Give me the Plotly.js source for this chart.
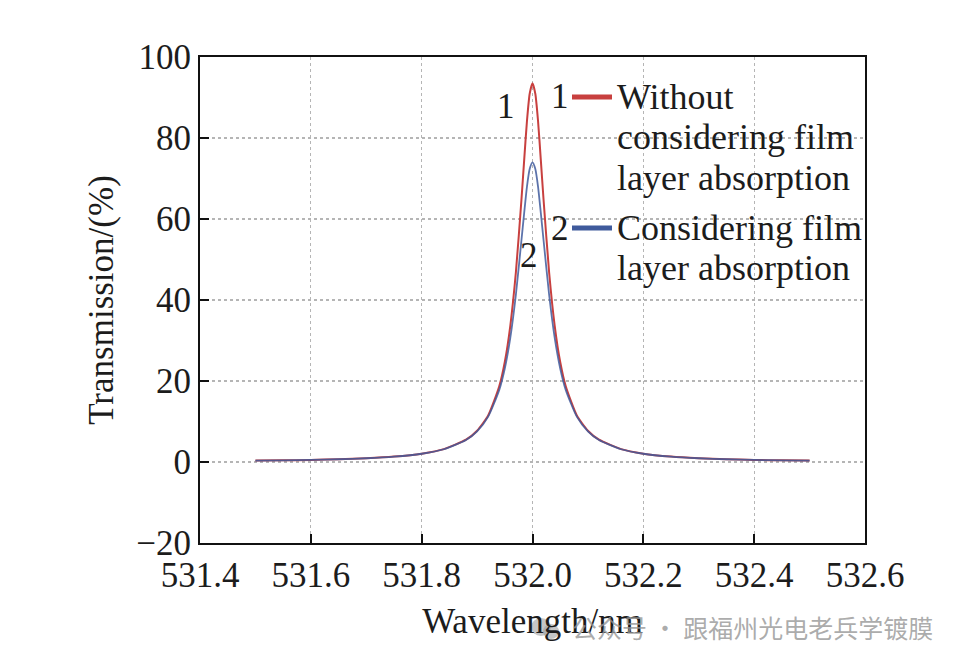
<!DOCTYPE html>
<html>
<head>
<meta charset="utf-8">
<script src="https://cdn.plot.ly/plotly-3.0.1.min.js"></script>
<style>html,body{margin:0;padding:0;background:#fff;}#chart{width:965px;height:663px;}</style>
</head>
<body>
<div id="chart"></div>
<script>
// Wavelength (nm)
const wavelength = [531.50,531.55,531.60,531.65,531.70,531.75,531.80,531.84,531.88,531.90,531.92,531.94,531.95,531.96,531.97,531.98,531.985,531.99,531.995,532.00,532.005,532.01,532.015,532.02,532.03,532.04,532.05,532.06,532.08,532.10,532.12,532.16,532.20,532.25,532.30,532.35,532.40,532.45,532.50];
// Curve 1: without considering film layer absorption (%)
const transWithout = [0.34,0.41,0.52,0.68,0.93,1.33,2.06,3.18,5.50,7.73,11.5,18.7,24.7,33.7,46.8,64.7,74.6,84.2,91.0,93.5,91.0,84.2,74.6,64.7,46.8,33.7,24.7,18.7,11.5,7.73,5.50,3.18,2.06,1.33,0.93,0.68,0.52,0.41,0.34];
// Curve 2: considering film layer absorption (%)
const transWith = [0.34,0.41,0.52,0.68,0.92,1.32,2.04,3.15,5.42,7.55,11.2,17.8,23.1,30.7,41.3,54.7,61.5,68.0,72.4,74.0,72.4,68.0,61.5,54.7,41.3,30.7,23.1,17.8,11.2,7.55,5.42,3.15,2.04,1.32,0.92,0.68,0.52,0.41,0.34];

const xTicks = [531.4,531.6,531.8,532.0,532.2,532.4,532.6];
const xTickText = ["531.4","531.6","531.8","532.0","532.2","532.4","532.6"];
const yTicks = [-20,0,20,40,60,80,100];

const legendLabels = ["Without","considering film","layer absorption","Considering film","layer absorption"];
const curveNumbers = ["1","2"];
const watermark = "公众号 · 跟福州光电老兵学镀膜";

const W = 965, H = 663;
const L = 200, R = 865, T = 57, B = 543;
const px = x => (x - L) / (R - L);
const py = y => (B - y) / (B - T);

const serif = "Liberation Serif, Times New Roman, serif";
const textColor = "#1c1c1c";

const traces = [
  {x: wavelength, y: transWithout, type: "scatter", mode: "lines", name: "1",
   line: {color: "#c8403f", width: 2, shape: "spline", smoothing: 0.6}},
  {x: wavelength, y: transWith, type: "scatter", mode: "lines", name: "2",
   line: {color: "#3f5a9c", width: 1.8, shape: "spline", smoothing: 0.6}, opacity: 0.85}
];

const legLines = [97, 137, 178, 228, 268];
const annotations = [];
legendLabels.forEach((t, i) => {
  annotations.push({text: t, xref: "paper", yref: "paper", x: px(615), y: py(legLines[i]),
    xanchor: "left", yanchor: "middle", showarrow: false,
    font: {family: serif, size: 36, color: textColor}});
});
annotations.push({text: curveNumbers[0], xref: "paper", yref: "paper", x: px(560), y: py(97),
  xanchor: "center", yanchor: "middle", showarrow: false, font: {family: serif, size: 35, color: textColor}});
annotations.push({text: curveNumbers[1], xref: "paper", yref: "paper", x: px(560), y: py(228),
  xanchor: "center", yanchor: "middle", showarrow: false, font: {family: serif, size: 35, color: textColor}});
annotations.push({text: curveNumbers[0], xref: "paper", yref: "paper", x: px(506), y: py(107),
  xanchor: "center", yanchor: "middle", showarrow: false, font: {family: serif, size: 35, color: textColor}});
annotations.push({text: curveNumbers[1], xref: "paper", yref: "paper", x: px(529), y: py(256),
  xanchor: "center", yanchor: "middle", showarrow: false, font: {family: serif, size: 35, color: textColor}});
annotations.push({text: watermark, xref: "paper", yref: "paper", x: px(935), y: py(627),
  xanchor: "right", yanchor: "middle", showarrow: false,
  font: {family: "Noto Sans CJK SC, sans-serif", size: 25, color: "rgba(150,150,150,0.8)"}});

const shapes = [
  {type: "line", xref: "paper", yref: "paper", x0: px(572), x1: px(612), y0: py(97), y1: py(97),
   line: {color: "#c8403f", width: 5}},
  {type: "line", xref: "paper", yref: "paper", x0: px(572), x1: px(612), y0: py(228), y1: py(228),
   line: {color: "#3f5a9c", width: 5}},
  {type: "circle", xref: "paper", yref: "paper", x0: px(531), x1: px(551), y0: py(618), y1: py(636),
   fillcolor: "rgba(160,160,160,0.6)", line: {width: 0}, layer: "above"},
  {type: "circle", xref: "paper", yref: "paper", x0: px(543), x1: px(559), y0: py(624), y1: py(639),
   fillcolor: "rgba(160,160,160,0.6)", line: {width: 0}, layer: "above"}
];

const layout = {
  width: W, height: H,
  margin: {l: L, r: W - R, t: T, b: H - B, pad: 0},
  paper_bgcolor: "#ffffff", plot_bgcolor: "#ffffff",
  showlegend: false,
  font: {family: serif, size: 35, color: textColor},
  xaxis: {
    range: [531.4, 532.6], tickvals: xTicks, ticktext: xTickText,
    ticks: "inside", ticklen: 9, tickwidth: 2, tickcolor: "#111",
    showline: true, linecolor: "#111", linewidth: 2, mirror: true,
    showgrid: true, gridcolor: "#b5b5b5", griddash: "dot", gridwidth: 1.2,
    zeroline: false,
    tickfont: {family: serif, size: 35, color: textColor},
    title: {text: "Wavelength/nm", font: {family: serif, size: 35, color: textColor}, standoff: 14}
  },
  yaxis: {
    range: [-20, 100], tickvals: yTicks,
    ticks: "inside", ticklen: 9, tickwidth: 2, tickcolor: "#111",
    showline: true, linecolor: "#111", linewidth: 2, mirror: true,
    showgrid: true, gridcolor: "#b5b5b5", griddash: "dot", gridwidth: 1.2,
    zeroline: false,
    tickfont: {family: serif, size: 35, color: textColor},
    title: {text: "Transmission/(%)", font: {family: serif, size: 35, color: textColor}, standoff: 12}
  },
  annotations: annotations,
  shapes: shapes
};

Plotly.newPlot("chart", traces, layout, {displayModeBar: false, staticPlot: true});
</script>
</body>
</html>
